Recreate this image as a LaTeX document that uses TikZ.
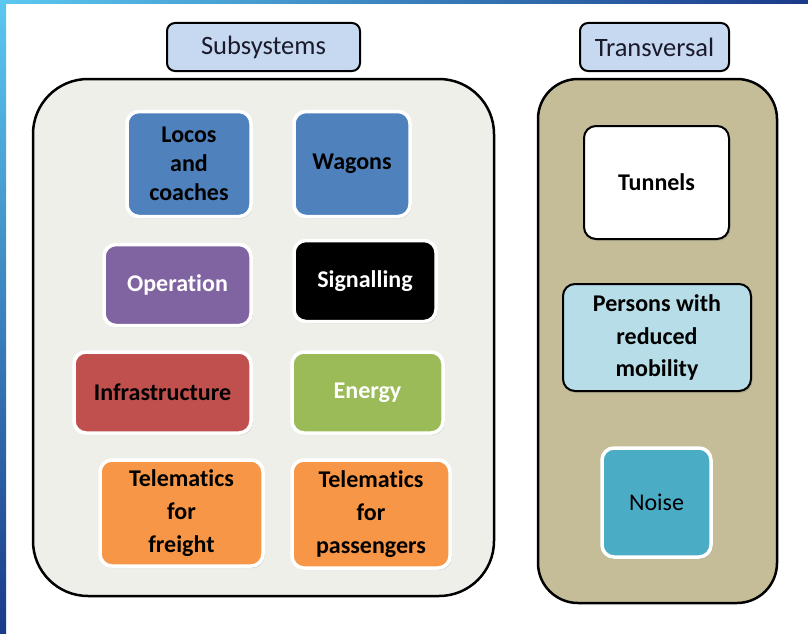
\documentclass[tikz,border=0pt]{standalone}
\usepackage{fontspec}
\setmainfont[Ligatures={NoCommon}]{Carlito}
\usetikzlibrary{shadows}
\definecolor{hdrfill}{HTML}{C6D9F1}
\definecolor{leftbg}{HTML}{EFEFE9}
\definecolor{rightbg}{HTML}{C4BD97}
\definecolor{cblue}{HTML}{4F81BD}
\definecolor{cpurple}{HTML}{8064A2}
\definecolor{cred}{HTML}{C0504D}
\definecolor{cgreen}{HTML}{9BBB59}
\definecolor{corange}{HTML}{F79646}
\definecolor{clight}{HTML}{B7DDE8}
\definecolor{cteal}{HTML}{4BACC6}
\definecolor{txtdark}{HTML}{1A1A2A}
\definecolor{stripA}{HTML}{5BC8F0}
\definecolor{stripB}{HTML}{1A3A8A}
\tikzset{
  hdr/.style={draw=black, line width=2pt, fill=hdrfill, rounded corners=8pt,
    inner sep=0pt, font=\fontsize{26.5}{29}\selectfont, text=txtdark},
  panel/.style={draw=black, line width=2.5pt},
  tile/.style={draw=white, line width=3.5pt, rounded corners=12pt, inner sep=0pt,
    align=center, font=\bfseries\fontsize{24}{29}\selectfont,
    drop shadow={shadow xshift=1.5pt, shadow yshift=-2pt, opacity=0.25}},
  tall/.style={font=\bfseries\fontsize{24}{33}\selectfont},
  ttile/.style={draw=black, line width=2pt, rounded corners=12pt, inner sep=0pt,
    align=center, font=\bfseries\fontsize{24}{32.5}\selectfont,
    drop shadow={shadow xshift=1.5pt, shadow yshift=-2pt, opacity=0.25}},
}
\begin{document}
\begin{tikzpicture}[x=1pt,y=-1pt]
\useasboundingbox (0,0) rectangle (808,634);
\fill[white] (0,0) rectangle (808,634);
% decorative strips
\shade[left color=stripA, right color=stripB] (0,0) rectangle (808,4);
\shade[top color=stripA, bottom color=stripB] (0,0) rectangle (6,634);
% panels
\draw[panel, fill=leftbg, rounded corners=55pt] (33,79) rectangle (494,596);
\draw[panel, fill=rightbg, rounded corners=40pt] (538,79) rectangle (777,603);
% headers
\node[hdr, minimum width=193pt, minimum height=48pt] (hsub) at (263.5,47) {Subsystems};
\node[hdr, minimum width=149pt, minimum height=48pt] (htra) at (654.5,47) {Transversal};
% subsystem tiles
\node[tile, fill=cblue, minimum width=124pt, minimum height=105pt] (locos) at (189,164) {Locos\\and\\coaches};
\node[tile, fill=cblue, minimum width=116pt, minimum height=105pt] (wagons) at (352,164) {Wagons};
\node[tile, fill=cpurple, text=white, minimum width=147pt, minimum height=81pt] (oper) at (177.5,285) {Operation};
\node[tile, fill=black, text=white, minimum width=142pt, minimum height=81pt] (sig) at (365,281) {Signalling};
\node[tile, fill=cred, minimum width=177pt, minimum height=81pt] (infra) at (162.5,392.5) {Infrastructure};
\node[tile, fill=cgreen, text=white, minimum width=151pt, minimum height=81pt] (energy) at (367.5,392.5) {Energy};
\node[tile, tall, fill=corange, minimum width=163pt, minimum height=106pt] (telf) at (181.5,513) {Telematics\\for\\freight};
\node[tile, tall, fill=corange, minimum width=158pt, minimum height=108pt] (telp) at (371,514) {Telematics\\for\\passengers};
% transversal tiles
\node[ttile, fill=white, minimum width=145pt, minimum height=113pt] (tun) at (656.5,182.5) {Tunnels};
\node[ttile, fill=clight, minimum width=188pt, minimum height=107pt] (prm) at (657,337.5) {Persons with\\reduced\\mobility};
\node[tile, fill=cteal, minimum width=109pt, minimum height=109pt] (noise) at (656.5,502.5) {\mdseries Noise};
\end{tikzpicture}
\end{document}
